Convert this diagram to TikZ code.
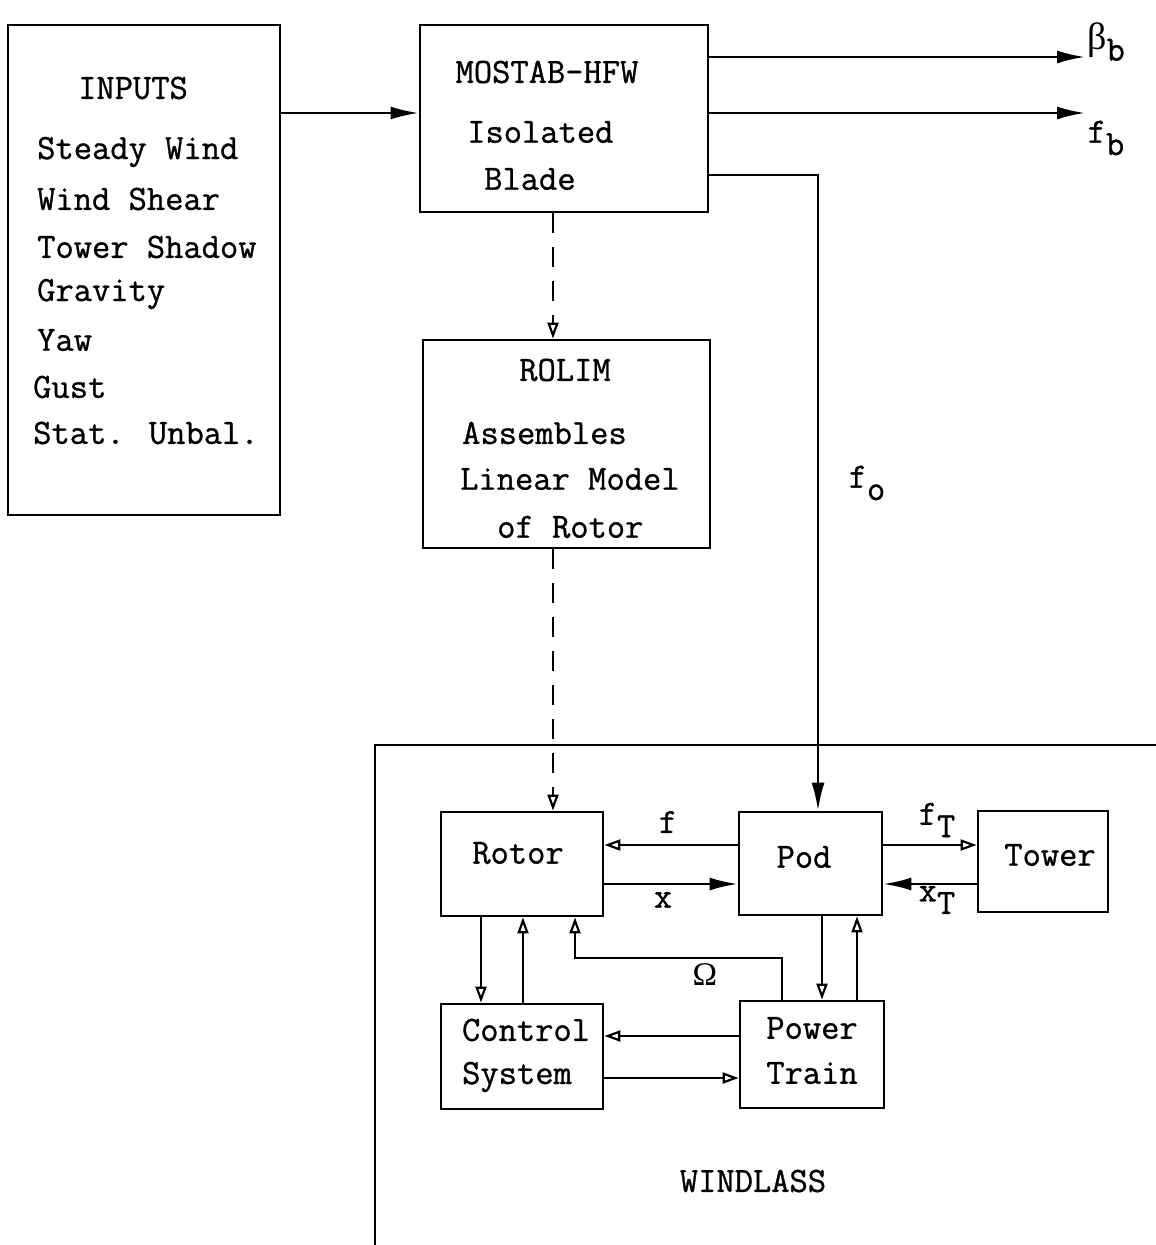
\documentclass[tikz,border=0pt]{standalone}
\usepackage{fontspec}
\newfontfamily\twfont[FakeBold=0.9]{Latin Modern Mono}
\newfontfamily\grfont{Liberation Serif}
\usetikzlibrary{arrows.meta,calc}
\begin{document}
\begin{tikzpicture}[x=1pt,y=-1pt,
  box/.style={draw,line width=2.8pt,inner sep=0pt,rectangle},
  txt/.style={inner sep=0pt,font=\twfont\fontsize{35.5}{44}\selectfont},
  conn/.style={line width=2.4pt},
  fill tip/.style={-{Latex[length=28pt,width=13pt]}},
  open tip/.style={-{Triangle[open,length=16pt,width=11pt,line width=2.2pt]}},
  dash line/.style={line width=2.4pt,dash pattern=on 20pt off 14pt}]
\useasboundingbox (0,0) rectangle (1156,1245);
% boxes
\node[box,minimum width=272pt,minimum height=490pt] (inputs) at (144,270) {};
\node[box,minimum width=288pt,minimum height=187pt] (mostab) at (564,118.5) {};
\node[box,minimum width=287pt,minimum height=208pt] (rolim) at (566.5,444) {};
\node[box,minimum width=162pt,minimum height=104pt] (rotor) at (522,864) {};
\node[box,minimum width=143pt,minimum height=103pt] (pod) at (810.5,863.5) {};
\node[box,minimum width=130pt,minimum height=101pt] (tower) at (1043,861.5) {};
\node[box,minimum width=162pt,minimum height=105pt] (ctrl) at (522,1056.5) {};
\node[box,minimum width=144pt,minimum height=107pt] (power) at (812,1054.5) {};
% texts
\node[txt] (tin) at (133,88) {INPUTS};
\node[txt,anchor=west] (t1) at (37,152) {Steady Wind};
\node[txt,anchor=west] (t2) at (37,199) {Wind Shear};
\node[txt,anchor=west] (t3) at (37,247) {Tower Shadow};
\node[txt,anchor=west] (t4) at (37,294) {Gravity};
\node[txt,anchor=west] (t5) at (37,340) {Yaw};
\node[txt,anchor=west] (t6) at (33,387) {Gust};
\node[txt,anchor=west] (t7) at (33,433) {Stat. Unbal.};
\node[txt] (m1) at (547,72) {MOSTAB-HFW};
\node[txt,anchor=west] (m2) at (467,132) {Isolated};
\node[txt,anchor=west] (m3) at (484,179) {Blade};
\node[txt] (r1) at (565,370) {ROLIM};
\node[txt,anchor=west] (r2) at (462,433) {Assembles};
\node[txt,anchor=west] (r3) at (460,479) {Linear Model};
\node[txt,anchor=west] (r4) at (497,527) {of Rotor};
\node[txt] (trotor) at (518,853) {Rotor};
\node[txt] (tpod) at (804,857) {Pod};
\node[txt] (ttower) at (1050,855) {Tower};
\node[txt] (c1) at (526,1030) {Control};
\node[txt] (c2) at (517,1077) {System};
\node[txt] (p1) at (812,1028) {Power};
\node[txt] (p2) at (812,1073) {Train};
\node[txt] (wl) at (753,1181) {WINDLASS};
% labels
\node[txt] (lbeta) at (1106,42) {{\grfont\fontsize{38}{40}\selectfont β}\raisebox{-0.3em}{b}};
\node[txt] (lfb) at (1106,138) {f\raisebox{-0.35em}{b}};
\node[txt] (lfo) at (867,483) {f\raisebox{-0.35em}{o}};
\node[txt] (lf) at (668,822) {f};
\node[txt] (lx) at (663,900) {x};
\node[txt] (lfT) at (937,820) {f\raisebox{-0.35em}{T}};
\node[txt] (lxT) at (937,900) {x\raisebox{-0.35em}{T}};
\node[inner sep=0pt,font=\grfont\fontsize{33}{36}\selectfont] (lom) at (705,975) {Ω};
% level coordinates
\coordinate (Y57) at (0,57);
\coordinate (Y113) at (0,113);
\coordinate (Y175) at (0,175);
\coordinate (Y845) at (0,845);
\coordinate (Y884) at (0,884);
\coordinate (Y958) at (0,958);
\coordinate (Y1036) at (0,1036);
\coordinate (Y1078) at (0,1078);
\coordinate (X481) at (481,0);
\coordinate (X523) at (523,0);
\coordinate (X553) at (553,0);
\coordinate (X575) at (575,0);
\coordinate (X782) at (782,0);
\coordinate (X818) at (818,0);
\coordinate (X822) at (822,0);
\coordinate (X857) at (857,0);
\coordinate (betaend) at (1085,57);
\coordinate (fbend) at (1085,113);
\coordinate (wlbot) at (375,1245);
\coordinate (wltop) at (375,745);
\coordinate (wlright) at (1156,745);
% windlass frame
\draw[line width=2.4pt] (wlbot) -- (wltop) -- (wlright);
% connectors
\draw[conn,fill tip] (inputs.east |- Y113) -- (mostab.west |- Y113);
\draw[conn,fill tip] (mostab.east |- Y57) -- (betaend);
\draw[conn,fill tip] (mostab.east |- Y113) -- (fbend);
\draw[conn,fill tip] (mostab.east |- Y175) -- (Y175 -| X818) -- (pod.north -| X818);
\draw[dash line,open tip] (mostab.south -| X553) -- (rolim.north -| X553);
\draw[dash line,open tip] (rolim.south -| X553) -- (rotor.north -| X553);
\draw[conn,open tip] (pod.west |- Y845) -- (rotor.east |- Y845);
\draw[conn,fill tip] (rotor.east |- Y884) -- (pod.west |- Y884);
\draw[conn,open tip] (pod.east |- Y845) -- (tower.west |- Y845);
\draw[conn,fill tip] (tower.west |- Y884) -- (pod.east |- Y884);
\draw[conn,open tip] (rotor.south -| X481) -- (ctrl.north -| X481);
\draw[conn,open tip] (ctrl.north -| X523) -- (rotor.south -| X523);
\draw[conn,open tip] (power.north -| X782) -- (Y958 -| X782) -- (Y958 -| X575) -- (rotor.south -| X575);
\draw[conn,open tip] (pod.south -| X822) -- (power.north -| X822);
\draw[conn,open tip] (power.north -| X857) -- (pod.south -| X857);
\draw[conn,open tip] (power.west |- Y1036) -- (ctrl.east |- Y1036);
\draw[conn,open tip] (ctrl.east |- Y1078) -- (power.west |- Y1078);
\end{tikzpicture}
\end{document}
